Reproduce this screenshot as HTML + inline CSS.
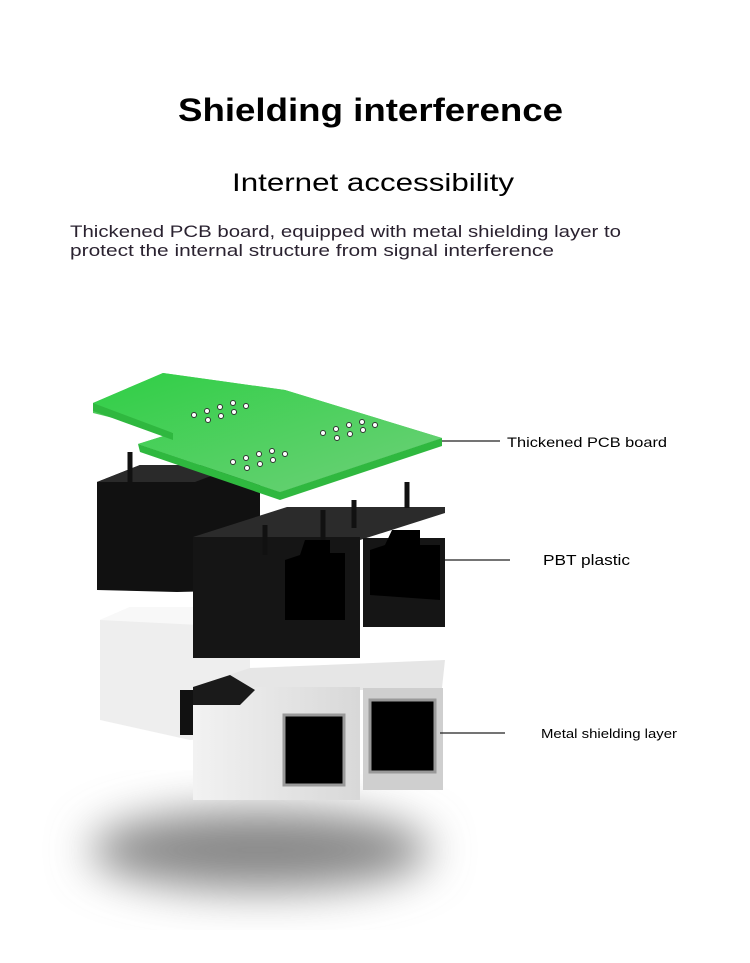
<!DOCTYPE html>
<html><head><meta charset="utf-8"><style>
html,body{margin:0;padding:0;background:#fff;}
svg{display:block;font-family:"Liberation Sans",sans-serif;}
</style></head><body>
<svg width="750" height="963" viewBox="0 0 750 963" xmlns="http://www.w3.org/2000/svg">
<defs>
<filter id="bl" x="-50%" y="-50%" width="200%" height="200%"><feGaussianBlur stdDeviation="22"/></filter>
<linearGradient id="gt" x1="0" y1="0" x2="1" y2="1"><stop offset="0" stop-color="#2fcf45"/><stop offset="1" stop-color="#6fd07a"/></linearGradient>
<linearGradient id="wf" x1="0" y1="0" x2="1" y2="0"><stop offset="0" stop-color="#f2f2f2"/><stop offset="1" stop-color="#d8d8d8"/></linearGradient>
</defs>
<rect width="750" height="963" fill="#fff"/>
<!-- text -->
<text x="178" y="121" font-size="32" font-weight="bold" fill="#000" textLength="385" lengthAdjust="spacingAndGlyphs">Shielding interference</text>
<text x="232" y="191" font-size="25" fill="#000" textLength="282" lengthAdjust="spacingAndGlyphs">Internet accessibility</text>
<text x="70" y="237" font-size="17" fill="#2a2230" textLength="551" lengthAdjust="spacingAndGlyphs">Thickened PCB board, equipped with metal shielding layer to</text>
<text x="70" y="256" font-size="17" fill="#2a2230" textLength="484" lengthAdjust="spacingAndGlyphs">protect the internal structure from signal interference</text>
<!-- shadow -->
<ellipse cx="260" cy="850" rx="170" ry="40" fill="#888" filter="url(#bl)"/>
<!-- black back-left block -->
<polygon points="97,482 140,465 260,465 260,590 177,592 97,590" fill="#111"/>
<polygon points="97,482 140,465 240,465 195,482" fill="#2a2a2a"/>
<line x1="130" y1="452" x2="130" y2="482" stroke="#111" stroke-width="5"/>
<!-- white back-left block -->
<polygon points="100,620 130,607 250,607 250,735 190,740 100,720" fill="#eee"/>
<polygon points="100,620 130,607 240,607 200,625" fill="#f8f8f8"/>
<rect x="180" y="690" width="15" height="45" fill="#111"/>
<!-- PCB -->
<polygon points="93,403 163,373 285,390 442,438 280,492 138,444 173,433 93,413" fill="#4fca5c"/>
<polygon points="93,403 163,373 285,390 442,438 280,492 138,444 173,433 93,403" fill="url(#gt)"/>
<polygon points="138,444 280,492 442,438 442,446 280,500 140,452" fill="#2fb83f"/>
<polygon points="93,403 173,433 173,440 93,411" fill="#2fb83f"/>
<g fill="#fff" stroke="#333" stroke-width="1">
<circle cx="194" cy="415" r="2.5"/><circle cx="207" cy="411" r="2.5"/><circle cx="220" cy="407" r="2.5"/><circle cx="233" cy="403" r="2.5"/><circle cx="246" cy="406" r="2.5"/><circle cx="208" cy="420" r="2.5"/><circle cx="221" cy="416" r="2.5"/><circle cx="234" cy="412" r="2.5"/>
<circle cx="323" cy="433" r="2.5"/><circle cx="336" cy="429" r="2.5"/><circle cx="349" cy="425" r="2.5"/><circle cx="362" cy="422" r="2.5"/><circle cx="375" cy="425" r="2.5"/><circle cx="337" cy="438" r="2.5"/><circle cx="350" cy="434" r="2.5"/><circle cx="363" cy="430" r="2.5"/>
<circle cx="233" cy="462" r="2.5"/><circle cx="246" cy="458" r="2.5"/><circle cx="259" cy="454" r="2.5"/><circle cx="272" cy="451" r="2.5"/><circle cx="285" cy="454" r="2.5"/><circle cx="247" cy="468" r="2.5"/><circle cx="260" cy="464" r="2.5"/><circle cx="273" cy="460" r="2.5"/>
</g>
<!-- black front blocks -->
<polygon points="193,537 287,507 445,507 445,513 360,540" fill="#2b2b2b"/>
<rect x="193" y="537" width="167" height="121" fill="#151515"/>
<rect x="363" y="538" width="82" height="89" fill="#151515"/>
<polygon points="285,610 285,560 300,555 305,540 330,540 330,553 345,553 345,620 285,620" fill="#000"/>
<polygon points="370,595 370,550 385,545 392,530 420,530 420,545 440,545 440,600" fill="#000"/>
<g stroke="#111" stroke-width="5"><line x1="265" y1="525" x2="265" y2="555"/><line x1="323" y1="510" x2="323" y2="540"/><line x1="354" y1="500" x2="354" y2="528"/><line x1="407" y1="482" x2="407" y2="508"/></g>
<!-- white front blocks -->
<polygon points="193,687 250,668 445,660 442,688 360,690" fill="#e6e6e6"/>
<rect x="193" y="687" width="167" height="113" fill="url(#wf)"/>
<rect x="363" y="688" width="80" height="102" fill="#cfcfcf"/>
<rect x="284" y="715" width="60" height="70" fill="#000" stroke="#999" stroke-width="3"/>
<rect x="370" y="700" width="65" height="72" fill="#000" stroke="#999" stroke-width="3"/>
<polygon points="193,687 230,675 255,690 240,705 193,705" fill="#1a1a1a"/>
<!-- labels -->
<line x1="442" y1="441" x2="500" y2="441" stroke="#222" stroke-width="1.2"/>
<text x="507" y="447" font-size="14" fill="#000" textLength="160" lengthAdjust="spacingAndGlyphs">Thickened PCB board</text>
<line x1="445" y1="560" x2="510" y2="560" stroke="#222" stroke-width="1.2"/>
<text x="543" y="565" font-size="15" fill="#000" textLength="87" lengthAdjust="spacingAndGlyphs">PBT plastic</text>
<line x1="440" y1="733" x2="505" y2="733" stroke="#222" stroke-width="1.2"/>
<text x="541" y="738" font-size="13" fill="#000" textLength="136" lengthAdjust="spacingAndGlyphs">Metal shielding layer</text>
</svg>
</body></html>
